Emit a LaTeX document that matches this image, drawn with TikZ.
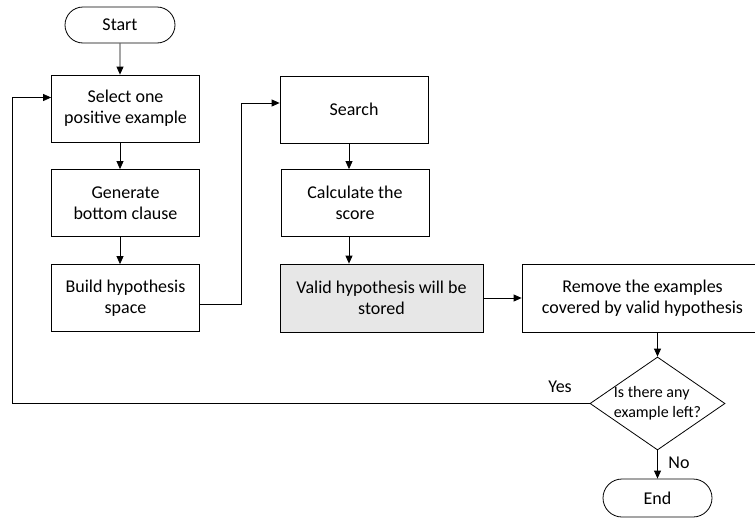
\documentclass[tikz,border=0pt]{standalone}
\usepackage{fontspec}
\setmainfont{Carlito}
\usetikzlibrary{shapes,arrows.meta}

\definecolor{validgray}{RGB}{231,231,231}

\begin{document}
\begin{tikzpicture}[x=1pt,y=-1pt,
	box/.style={rectangle,draw,line width=0.8pt,inner sep=0pt,minimum width=148pt,minimum height=67pt,align=center,font=\fontsize{18}{21}\selectfont},
	term/.style={rounded rectangle,draw,line width=0.8pt,inner sep=0pt,minimum width=110pt,minimum height=36pt,font=\fontsize{18}{21}\selectfont},
	decide/.style={diamond,draw,line width=0.8pt,inner sep=0pt,minimum width=135pt,minimum height=93pt},
	arr/.style={-{Triangle[length=8pt,width=7pt]},line width=0.8pt},
	lbl/.style={font=\fontsize{18}{21}\selectfont}]

		\clip (0,0) rectangle (755,517);

		\node[term] (start) at (120,25) {Start};
		\node[box] (select) at (125.5,108.5) {Select one\\positive example};
		\node[box] (generate) at (125.5,203) {Generate\\bottom clause};
		\node[box] (build) at (125.5,298) {Build hypothesis\\space};
		\node[box] (search) at (354,109.5) {Search};
		\node[box] (calc) at (355,203) {Calculate the\\score};
		\node[box,fill=validgray,minimum width=203pt,minimum height=68pt] (valid) at (381.5,298) {Valid hypothesis will be\\stored};
		\node[box,minimum width=241pt,minimum height=68pt] (remove) at (642.5,298) {Remove the examples\\covered by valid hypothesis};
		\node[decide,label={[align=left,font=\fontsize{16}{20}\selectfont]center:{Is there any\\example left?}}] (left) at (657.5,403.5) {};
		\node[term,minimum width=109pt,minimum height=38pt] (end) at (657.5,498) {End};
		\node[lbl] (yes) at (560,387) {Yes};
		\node[lbl] (no) at (679,463) {No};

		\coordinate (bend) at (241,0);
		\coordinate (back) at (12.5,0);

		\draw[arr] (start) -- (start |- select.north);
		\draw[arr] (select.south -| start) -- (generate.north -| start);
		\draw[arr] (generate.south -| start) -- (build.north -| start);
		\draw[arr] ([yshift=-6pt]build.east) -- ([yshift=-6pt]build.east -| bend)
			-- ([yshift=6.5pt]search.west -| bend) -- ([yshift=6.5pt]search.west);
		\draw[arr] (search.south -| 349,0) -- (calc.north -| 349,0);
		\draw[arr] (calc.south -| 349,0) -- (valid.north -| 349,0);
		\draw[arr] (valid) -- (remove);
		\draw[arr] (remove.south -| left.north) -- (left.north);
		\draw[arr] (left.south) -- (end.north);
		\draw[arr] (left.west) -- (left.west -| back)
			-- ([yshift=11pt]select.west -| back) -- ([yshift=11pt]select.west);

	\end{tikzpicture}
\end{document}
